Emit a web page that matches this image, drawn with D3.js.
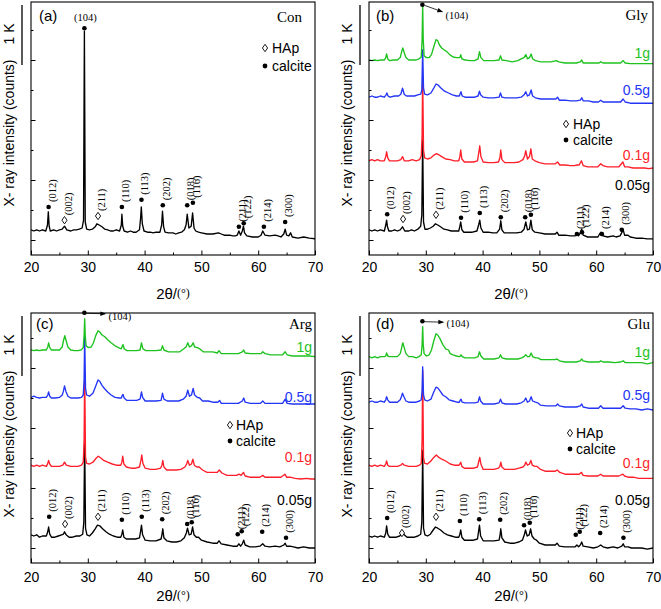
<!DOCTYPE html>
<html><head><meta charset="utf-8">
<script src="https://cdn.jsdelivr.net/npm/d3@7"></script>
<style>body{margin:0;background:#fff}</style>
</head><body>
<script>
// ---------- DATA ----------
const xTicks = [20, 30, 40, 50, 60, 70];
const xMinorTicks = [25, 35, 45, 55, 65];
const yMajorTicks = [0, 1000, 2000, 3000];
const yMinorTicks = [500, 1500, 2500, 3500];
const sampleNames = ["0.05g", "0.1g", "0.5g", "1g"];

// 2θ (deg), intensity (counts)
const conPattern = [[20,170],[20.5,150],[21,170],[21.5,150],[22,170],[22.6,150],[22.9,250],[23.05,470],[23.2,230],[23.4,150],[24,170],[24.5,150],[25,170],[25.5,180],[25.9,230],[26.3,170],[27,150],[27.5,170],[28,170],[28.5,180],[29,200],[29.25,330],[29.4,3480],[29.55,300],[29.8,180],[30.3,170],[30.8,180],[31.3,220],[31.6,270],[32,250],[32.5,220],[33,180],[33.5,170],[34,150],[34.5,150],[35,170],[35.6,150],[35.9,250],[36,430],[36.15,230],[36.4,150],[37,130],[37.5,150],[38,130],[38.5,130],[39.1,170],[39.3,370],[39.42,550],[39.6,270],[39.9,150],[40.5,130],[41,130],[41.5,120],[42,130],[42.7,130],[43,250],[43.15,480],[43.35,220],[43.6,130],[44.2,120],[45,120],[45.5,100],[46,120],[46.5,130],[47,170],[47.3,250],[47.5,430],[47.8,200],[48.2,230],[48.45,450],[48.7,200],[49,150],[49.5,130],[50,120],[51,100],[52,100],[53,120],[53.5,100],[54,80],[55,80],[55.5,70],[56,70],[56.3,80],[56.6,150],[56.9,80],[57.2,150],[57.4,230],[57.6,120],[58,70],[59,50],[60,50],[60.5,80],[60.8,150],[61.2,80],[62,70],[63,80],[63.5,70],[64,50],[64.5,100],[64.75,180],[65,80],[65.4,70],[65.7,120],[66,50],[67,30],[68,50],[69,30],[70,20]];

const glyS005 = [[20,170],[20.5,150],[21,170],[21.5,150],[22,170],[22.7,150],[22.95,250],[23.1,330],[23.25,220],[23.5,150],[24,150],[24.5,170],[25,150],[25.5,170],[25.9,220],[26.3,150],[27,150],[27.5,170],[28,150],[28.6,180],[29.1,230],[29.3,420],[29.45,1670],[29.6,300],[29.85,180],[30.3,180],[30.8,200],[31.3,230],[31.7,270],[32.1,250],[32.6,220],[33.2,180],[33.8,170],[34.5,150],[35.2,150],[35.8,150],[36,230],[36.15,300],[36.35,170],[36.7,130],[37.5,130],[38.2,130],[39,150],[39.3,250],[39.5,330],[39.7,200],[40.1,130],[41,130],[41.8,120],[42.5,120],[43,180],[43.2,320],[43.4,170],[43.8,120],[44.5,120],[45.2,120],[46,120],[46.8,130],[47.3,180],[47.6,300],[47.9,170],[48.25,180],[48.5,330],[48.75,170],[49.2,130],[50,120],[51,100],[52,100],[52.8,100],[53.1,130],[53.4,80],[54.5,80],[55.5,70],[56.3,70],[56.6,100],[56.9,70],[57.2,120],[57.45,180],[57.7,80],[58.5,50],[59.5,50],[60.3,50],[60.6,100],[60.85,130],[61.2,70],[62,50],[63,70],[63.5,50],[64.2,70],[64.55,130],[64.75,170],[65,80],[65.6,80],[66,50],[67,30],[68,30],[69,20],[70,20]];
const glyS01 = [[20,150],[20.5,170],[21,150],[21.5,170],[22,150],[22.7,150],[22.95,220],[23.1,300],[23.3,200],[23.6,150],[24.3,150],[25,150],[25.6,170],[25.9,220],[26.2,150],[27,150],[27.6,170],[28.3,150],[28.9,170],[29.2,230],[29.35,580],[29.45,1580],[29.6,330],[29.8,200],[30.3,180],[30.9,200],[31.5,250],[31.9,270],[32.3,250],[32.8,220],[33.5,180],[34.3,170],[35,150],[35.8,150],[36,220],[36.15,330],[36.35,180],[36.8,130],[37.6,130],[38.4,130],[39.1,150],[39.35,300],[39.5,400],[39.7,220],[40.1,130],[41,120],[42,120],[42.8,130],[43.05,200],[43.2,330],[43.4,170],[43.9,120],[44.8,120],[45.6,120],[46.4,130],[47.1,170],[47.4,230],[47.6,320],[47.9,180],[48.25,220],[48.5,350],[48.75,180],[49.2,150],[50,120],[51,100],[52,100],[52.8,100],[53.2,130],[53.6,80],[54.5,80],[55.5,70],[56.2,70],[56.6,80],[57,80],[57.4,150],[57.7,70],[58.5,50],[59.5,50],[60.3,50],[60.8,100],[61.2,70],[62,50],[63,50],[64,50],[64.7,130],[65,50],[65.6,50],[66.5,30],[67.5,30],[68.5,30],[69.3,20],[70,30]];
const glyS05 = [[20,130],[20.5,150],[21,130],[21.5,130],[22,150],[22.7,130],[23,170],[23.15,200],[23.35,150],[23.7,130],[24.5,150],[25.2,150],[25.6,180],[25.9,280],[26.2,180],[26.6,150],[27.3,150],[28,150],[28.6,170],[29.1,180],[29.3,250],[29.45,920],[29.6,280],[29.8,180],[30.3,170],[30.9,200],[31.4,280],[31.8,350],[32.2,330],[32.7,280],[33.3,230],[34,200],[34.7,170],[35.4,150],[35.9,150],[36.1,200],[36.2,220],[36.4,150],[36.9,130],[37.8,130],[38.6,130],[39.2,150],[39.45,230],[39.65,170],[40.1,130],[41,120],[42,120],[42.9,130],[43.15,200],[43.4,130],[44,120],[45,120],[46,120],[46.8,130],[47.3,170],[47.6,220],[47.9,150],[48.25,170],[48.55,250],[48.8,150],[49.3,120],[50.2,100],[51.2,100],[52,100],[52.9,100],[53.2,130],[53.5,80],[54.5,80],[55.5,70],[56.5,70],[57.2,80],[57.45,120],[57.7,70],[58.6,70],[59.5,50],[60.4,50],[60.8,80],[61.2,50],[62,50],[63,50],[64.3,50],[64.75,100],[65.1,50],[66,30],[67,30],[68,30],[69,30],[70,30]];
const glyS1 = [[20,80],[20.5,70],[21,80],[21.5,70],[22,80],[22.7,80],[22.95,120],[23.1,180],[23.3,100],[23.6,70],[24.3,80],[25,80],[25.5,120],[25.75,220],[25.95,280],[26.2,200],[26.5,120],[27,80],[27.7,80],[28.3,80],[28.8,100],[29.2,130],[29.35,420],[29.45,1000],[29.55,420],[29.7,150],[30.1,120],[30.6,120],[31,170],[31.4,300],[31.8,420],[32.1,400],[32.4,330],[32.8,280],[33.2,250],[33.7,220],[34.2,170],[34.8,130],[35.4,120],[36,120],[36.15,170],[36.35,100],[36.9,80],[37.8,70],[38.6,70],[39.2,100],[39.45,220],[39.7,120],[40.2,70],[41,70],[42,70],[42.9,80],[43.15,150],[43.4,80],[44.2,70],[45.2,50],[46.2,70],[46.8,100],[47.3,120],[47.6,170],[47.9,100],[48.25,120],[48.55,180],[48.8,100],[49.3,70],[50.2,50],[51,50],[52,50],[53,70],[53.4,50],[54.5,30],[55.5,30],[56.5,30],[57.2,50],[57.45,80],[57.7,30],[58.6,30],[59.5,30],[60.5,30],[60.8,50],[61.2,30],[62.2,30],[63.3,30],[64.3,30],[64.75,70],[65.1,30],[66,20],[67,20],[68,20],[69,20],[70,20]];
const glyOffsets = [0, 1170, 2250, 2920];

const argS005 = [[20,220],[20.5,200],[21,220],[21.5,180],[22,200],[22.7,200],[22.95,270],[23.1,350],[23.3,230],[23.6,180],[24.2,180],[24.8,200],[25.4,220],[25.7,230],[25.9,270],[26.2,220],[26.7,180],[27.3,180],[28,200],[28.6,200],[29.1,230],[29.3,430],[29.45,1800],[29.6,330],[29.85,220],[30.3,200],[30.8,250],[31.3,320],[31.7,380],[32.1,370],[32.6,320],[33.2,270],[33.8,230],[34.5,200],[35.2,180],[35.8,180],[36,230],[36.15,300],[36.35,180],[36.8,150],[37.6,150],[38.4,150],[39.1,170],[39.3,280],[39.45,380],[39.65,220],[40.1,130],[41,120],[42,120],[42.9,150],[43.05,220],[43.2,320],[43.4,170],[43.9,120],[44.8,100],[45.6,100],[46.4,120],[47,170],[47.35,250],[47.55,330],[47.85,220],[48.2,230],[48.45,350],[48.7,220],[49.1,180],[49.5,180],[50,130],[51,100],[52,80],[52.8,80],[53.1,120],[53.5,70],[54.5,50],[55.5,30],[56.3,30],[56.6,70],[56.9,30],[57.2,70],[57.45,130],[57.7,50],[58.5,20],[59.5,20],[60.3,30],[60.8,70],[61.2,30],[62,20],[63,30],[63.8,20],[64.5,50],[64.75,80],[65,30],[65.6,30],[66.2,20],[67,0],[68,20],[69,0],[70,0]];
const argS01 = [[20,250],[20.5,230],[21,250],[21.5,230],[22,250],[22.7,230],[22.95,280],[23.1,330],[23.3,270],[23.6,230],[24.3,230],[25,230],[25.6,250],[25.9,300],[26.2,250],[27,230],[27.6,230],[28.3,230],[28.9,250],[29.2,300],[29.35,670],[29.45,1830],[29.6,380],[29.8,280],[30.3,270],[30.9,300],[31.5,370],[31.85,400],[32.3,370],[32.8,330],[33.5,300],[34.3,270],[35,250],[35.8,250],[36,300],[36.15,400],[36.35,270],[36.8,220],[37.6,200],[38.4,200],[39.1,220],[39.35,330],[39.5,420],[39.7,280],[40.1,200],[41,180],[42,180],[42.8,200],[43.05,250],[43.2,330],[43.4,220],[43.9,170],[44.8,170],[45.6,170],[46.4,180],[47.1,220],[47.4,270],[47.6,330],[47.9,250],[48.25,270],[48.5,350],[48.75,250],[49.2,220],[49.6,220],[50.2,170],[51,130],[52,130],[52.8,130],[53.15,170],[53.6,120],[54.5,80],[55.5,80],[56.2,80],[56.6,100],[57,80],[57.4,130],[57.7,70],[58.5,50],[59.5,50],[60.3,50],[60.8,80],[61.2,50],[62,50],[63,50],[64,50],[64.7,100],[65,50],[65.6,50],[66.5,30],[67.5,20],[68.5,30],[69.3,20],[70,20]];
const argS05 = [[20,130],[20.5,150],[21,130],[21.5,120],[22,130],[22.7,130],[22.95,170],[23.1,220],[23.3,150],[23.6,120],[24.3,120],[25,130],[25.5,170],[25.7,230],[25.9,320],[26.15,230],[26.5,150],[27,120],[27.7,120],[28.3,120],[28.9,130],[29.2,170],[29.35,420],[29.45,1170],[29.6,280],[29.8,170],[30.3,150],[30.9,200],[31.4,320],[31.8,420],[32.1,400],[32.5,330],[33,270],[33.5,220],[34.1,170],[34.8,130],[35.5,120],[35.9,120],[36.1,170],[36.2,180],[36.4,120],[36.9,80],[37.8,80],[38.6,80],[39.2,100],[39.45,220],[39.65,130],[40.1,70],[41,70],[42,70],[42.9,80],[43.15,200],[43.4,100],[44,70],[45,70],[46,70],[46.8,100],[47.3,150],[47.6,250],[47.9,150],[48.25,170],[48.55,280],[48.8,170],[49.3,130],[49.7,120],[50.2,70],[51.2,70],[52,50],[52.9,50],[53.2,80],[53.5,30],[54.5,30],[55.5,30],[56.5,30],[57.2,70],[57.45,120],[57.7,50],[58.6,30],[59.5,30],[60.4,30],[60.8,70],[61.2,30],[62,30],[63,30],[64.3,30],[64.75,100],[65.1,30],[66,20],[67,20],[68,20],[69,20],[70,20]];
const argS1 = [[20,130],[20.5,120],[21,130],[21.5,120],[22,130],[22.7,130],[22.95,180],[23.1,250],[23.3,170],[23.6,130],[24.3,130],[25,130],[25.5,180],[25.7,280],[25.95,370],[26.2,280],[26.5,180],[27,130],[27.7,120],[28.3,120],[28.8,130],[29.2,170],[29.35,380],[29.45,650],[29.55,380],[29.7,200],[30.1,170],[30.6,180],[31,250],[31.4,370],[31.8,450],[32.1,430],[32.5,380],[33,350],[33.5,300],[34.1,250],[34.8,200],[35.4,170],[35.9,150],[36.1,200],[36.2,220],[36.4,150],[36.9,120],[37.8,120],[38.6,120],[39.2,130],[39.45,250],[39.7,150],[40.2,120],[41,120],[42,120],[42.9,130],[43.15,200],[43.4,130],[44.2,100],[45.2,100],[46.2,100],[46.9,150],[47.3,180],[47.6,250],[47.9,180],[48.25,200],[48.55,250],[48.8,180],[49.3,170],[49.7,150],[50.3,100],[51,100],[52,100],[52.8,80],[53.1,120],[53.5,70],[54.5,70],[55.5,70],[56.5,70],[57.2,100],[57.45,130],[57.7,80],[58.6,70],[59.5,70],[60.5,70],[60.8,100],[61.2,70],[62.2,50],[63.3,50],[64.3,50],[64.75,100],[65.1,50],[66,30],[67,30],[68,30],[69,30],[70,20]];
const argOffsets = [0, 1130, 2380, 3170];

const gluS005 = [[20,200],[20.5,180],[21,200],[21.5,180],[22,200],[22.7,180],[22.95,250],[23.1,370],[23.3,230],[23.6,180],[24.2,180],[24.8,180],[25.4,200],[25.7,230],[25.9,280],[26.2,220],[26.7,180],[27.3,180],[28,180],[28.6,200],[29.1,230],[29.3,430],[29.45,1630],[29.6,330],[29.85,220],[30.3,200],[30.8,230],[31.3,300],[31.7,350],[32.1,330],[32.6,300],[33.2,250],[33.8,220],[34.5,200],[35.2,180],[35.8,180],[36,230],[36.15,300],[36.35,180],[36.8,130],[37.6,130],[38.4,130],[39.1,150],[39.3,280],[39.45,380],[39.65,200],[40.1,120],[41,120],[42,120],[42.9,130],[43.05,200],[43.2,320],[43.4,170],[43.9,100],[44.8,80],[45.6,80],[46.4,100],[47,130],[47.35,220],[47.55,300],[47.85,200],[48.2,220],[48.45,320],[48.7,200],[49.1,150],[49.5,130],[50,80],[51,50],[52,50],[52.8,50],[53.1,80],[53.5,30],[54.5,20],[55.5,20],[56.3,20],[56.6,50],[56.9,20],[57.2,50],[57.45,100],[57.7,30],[58.5,20],[59.5,0],[60.3,20],[60.8,50],[61.2,20],[62,0],[63,20],[63.8,0],[64.5,30],[64.75,70],[65,20],[65.6,20],[66.2,0],[67,0],[68,0],[69,-20],[70,0]];
const gluS01 = [[20,250],[20.5,230],[21,250],[21.5,230],[22,250],[22.7,230],[22.95,270],[23.1,320],[23.3,250],[23.6,230],[24.3,230],[25,230],[25.6,250],[25.9,280],[26.2,250],[27,230],[27.6,230],[28.3,230],[28.9,250],[29.2,280],[29.35,670],[29.45,1830],[29.6,370],[29.8,280],[30.3,270],[30.9,320],[31.4,380],[31.85,420],[32.3,380],[32.8,350],[33.5,320],[34.3,270],[35,250],[35.8,250],[36,270],[36.15,300],[36.35,230],[36.8,200],[37.6,200],[38.4,200],[39.1,220],[39.35,320],[39.5,380],[39.7,270],[40.1,180],[41,180],[42,180],[42.8,200],[43.05,230],[43.2,300],[43.4,220],[43.9,180],[44.8,180],[45.6,180],[46.4,200],[47.1,220],[47.4,250],[47.6,300],[47.9,250],[48.25,270],[48.5,330],[48.75,250],[49.2,230],[49.6,230],[50.2,180],[51,150],[52,150],[52.8,150],[53.15,170],[53.6,130],[54.5,100],[55.5,100],[56.2,100],[56.6,100],[57,100],[57.4,130],[57.7,80],[58.5,70],[59.5,70],[60.3,70],[60.8,100],[61.2,70],[62,70],[63,70],[64,70],[64.7,100],[65,70],[65.6,50],[66.5,50],[67.5,30],[68.5,30],[69.3,30],[70,30]];
const gluS05 = [[20,130],[20.5,150],[21,130],[21.5,130],[22,150],[22.7,130],[22.95,170],[23.1,220],[23.3,170],[23.6,130],[24.3,130],[25,130],[25.5,170],[25.7,220],[25.9,280],[26.15,220],[26.5,150],[27,130],[27.7,130],[28.3,130],[28.9,150],[29.2,170],[29.35,330],[29.45,720],[29.6,250],[29.8,170],[30.3,150],[30.9,180],[31.4,300],[31.8,380],[32.1,370],[32.5,320],[33,250],[33.5,220],[34.1,170],[34.8,150],[35.5,130],[35.9,130],[36.1,170],[36.2,180],[36.4,130],[36.9,120],[37.8,120],[38.6,120],[39.2,130],[39.45,220],[39.65,150],[40.1,100],[41,100],[42,100],[42.9,120],[43.15,180],[43.4,120],[44,100],[45,100],[46,100],[46.8,120],[47.3,150],[47.6,200],[47.9,130],[48.25,150],[48.55,220],[48.8,150],[49.3,130],[49.7,120],[50.2,80],[51.2,70],[52,70],[52.9,70],[53.2,100],[53.5,70],[54.5,50],[55.5,50],[56.5,50],[57.2,70],[57.45,100],[57.7,50],[58.6,30],[59.5,30],[60.4,30],[60.8,70],[61.2,30],[62,30],[63,30],[64.3,30],[64.75,70],[65.1,30],[66,20],[67,20],[68,0],[69,20],[70,0]];
const gluS1 = [[20,120],[20.5,100],[21,120],[21.5,100],[22,120],[22.7,120],[22.95,130],[23.1,180],[23.3,130],[23.6,120],[24.3,120],[25,120],[25.5,170],[25.7,250],[25.95,350],[26.2,270],[26.5,170],[27,120],[27.7,120],[28.3,100],[28.8,120],[29.2,150],[29.35,320],[29.45,620],[29.55,320],[29.7,170],[30.1,130],[30.6,150],[31,230],[31.4,380],[31.8,500],[32.1,480],[32.5,420],[33,320],[33.5,250],[34,230],[34.3,170],[34.8,150],[35.4,130],[35.9,120],[36.1,130],[36.2,150],[36.4,120],[36.9,100],[37.8,100],[38.6,100],[39.2,120],[39.45,200],[39.7,130],[40.2,80],[41,80],[42,80],[42.9,100],[43.15,150],[43.4,100],[44.2,80],[45.2,80],[46.2,80],[46.9,100],[47.3,120],[47.6,150],[47.9,120],[48.25,120],[48.55,180],[48.8,120],[49.3,100],[49.7,100],[50.3,70],[51,70],[52,70],[52.8,70],[53.1,80],[53.5,50],[54.5,30],[55.5,30],[56.5,30],[57.2,50],[57.45,80],[57.7,50],[58.6,30],[59.5,30],[60.5,30],[60.8,50],[61.2,30],[62.2,30],[63.3,20],[64.3,30],[64.75,50],[65.1,20],[66,20],[67,20],[68,20],[69,0],[70,20]];
const gluOffsets = [0, 1130, 2300, 3070];

// peak annotations: [hkl, 2θ, marker intensity (counts), phase c=calcite h=HAp]
const conPeaks = [["(012)",23.1,550,"c"],["(002)",25.9,330,"h"],["(104)",29.4,3530,"c"],["(211)",31.8,400,"h"],["(110)",36.0,550,"c"],["(113)",39.45,670,"c"],["(202)",43.2,580,"c"],["(018)",47.5,580,"c"],["(116)",48.5,620,"c"],["(211)",56.6,220,"c"],["(122)",57.45,280,"c"],["(214)",61.0,220,"c"],["(300)",64.75,300,"c"]];
const glyPeaks = [["(012)",23.2,430,"c"],["(002)",26.0,350,"h"],["(104)",29.4,3920,"c"],["(211)",31.8,420,"h"],["(110)",36.2,370,"c"],["(113)",39.5,450,"c"],["(202)",43.2,380,"c"],["(018)",47.5,380,"c"],["(116)",48.5,420,"c"],["(211)",56.6,100,"c"],["(122)",57.5,130,"c"],["(214)",61.0,100,"c"],["(300)",64.5,170,"c"]];
const argPeaks = [["(012)",23.2,520,"c"],["(002)",26.0,400,"h"],["(104)",29.4,3920,"c"],["(211)",31.8,520,"h"],["(110)",36.0,470,"c"],["(113)",39.5,520,"c"],["(202)",43.1,480,"c"],["(018)",47.5,400,"c"],["(116)",48.3,430,"c"],["(211)",56.4,230,"c"],["(122)",57.1,280,"c"],["(214)",60.7,270,"c"],["(300)",64.9,170,"c"]];
const gluPeaks = [["(012)",23.2,500,"c"],["(002)",25.8,250,"h"],["(104)",29.4,3780,"c"],["(211)",31.8,520,"h"],["(110)",36.0,450,"c"],["(113)",39.4,480,"c"],["(202)",43.1,470,"c"],["(018)",47.3,380,"c"],["(116)",48.3,420,"c"],["(211)",56.4,220,"c"],["(122)",57.1,270,"c"],["(214)",60.7,250,"c"],["(300)",64.8,170,"c"]];

// ---------- STYLE / LAYOUT ----------
const SANS = "'Liberation Sans', Arial, Helvetica, sans-serif";
const SERIF = "'Liberation Serif', 'Times New Roman', serif";
const seriesColors = ["#000000", "#ff1f2a", "#2335f5", "#1ec21e"];

const panels = [
  {key:"a", letter:"(a)", name:"Con", left:31, top:2, right:315, bottom:255, tickPad:7, titleDy:38,
   series:[conPattern], offsets:[0], peaks:conPeaks,
   letterPos:[39,15], namePos:[302,17], legend:{mx:265, tx:272, y1:48, y2:66},
   labels:null, main:{type:"above"}},
  {key:"b", letter:"(b)", name:"Gly", left:369, top:2, right:653, bottom:255, tickPad:7, titleDy:38,
   series:[glyS005, glyS01, glyS05, glyS1], offsets:glyOffsets, peaks:glyPeaks,
   letterPos:[376,15], namePos:[648,15], legend:{mx:566, tx:573, y1:124, y2:140},
   labels:{x:650, ys:[185,155,90,53]}, main:{type:"arrow", ax:20, ay:7, tx:23, ty:11}},
  {key:"c", letter:"(c)", name:"Arg", left:31, top:313, right:315, bottom:563, tickPad:9, titleDy:32,
   series:[argS005, argS01, argS05, argS1], offsets:argOffsets, peaks:argPeaks,
   letterPos:[36,323], namePos:[312,324], legend:{mx:230, tx:236, y1:425, y2:441},
   labels:{x:312, ys:[500,457,397,347]}, main:{type:"arrow", ax:21, ay:1, tx:24, ty:4}},
  {key:"d", letter:"(d)", name:"Glu", left:369, top:313, right:653, bottom:563, tickPad:9, titleDy:32,
   series:[gluS005, gluS01, gluS05, gluS1], offsets:gluOffsets, peaks:gluPeaks,
   letterPos:[376,323], namePos:[650,324], legend:{mx:570, tx:576, y1:433, y2:449},
   labels:{x:650, ys:[500,463,395,352]}, main:{type:"arrow", ax:21, ay:1, tx:24, ty:2}}
];

// ---------- DRAW ----------
const svg = d3.select("body").append("svg").attr("width",661).attr("height",609);
svg.append("rect").attr("width",661).attr("height",609).attr("fill","#fff");
const defs = svg.append("defs");
defs.append("marker").attr("id","arrowhead").attr("viewBox","0 0 10 10")
  .attr("refX",9).attr("refY",5).attr("markerWidth",7).attr("markerHeight",7)
  .attr("orient","auto").append("path").attr("d","M0,1L10,5L0,9Z").attr("fill","#000");

const diamondPath = "M0,-3.7L2.6,0L0,3.7L-2.6,0Z";

function drawPanel(p) {
  const x = d3.scaleLinear().domain([20,70]).range([p.left,p.right]);
  const y = d3.scaleLinear().domain([0,1000]).range([p.bottom-15, p.bottom-75]);
  const g = svg.append("g");

  defs.append("clipPath").attr("id","clip-"+p.key).append("rect")
    .attr("x",p.left).attr("y",p.top).attr("width",p.right-p.left).attr("height",p.bottom-p.top);

  // patterns
  p.series.forEach((s,i) => {
    const off = p.offsets[i];
    const line = d3.line().x(d => x(d[0])).y(d => y(d[1] + off));
    g.append("path").datum(s).attr("d", line)
      .attr("fill","none").attr("stroke", seriesColors[i])
      .attr("stroke-width",1.35).attr("stroke-linejoin","round")
      .attr("clip-path","url(#clip-"+p.key+")");
  });

  // axes (inward ticks)
  const xAx = g.append("g").attr("transform",`translate(0,${p.bottom})`)
    .call(d3.axisBottom(x).tickValues(xTicks).tickSize(-4.5).tickPadding(p.tickPad).tickFormat(d3.format("d")));
  const xMin = g.append("g").attr("transform",`translate(0,${p.bottom})`)
    .call(d3.axisBottom(x).tickValues(xMinorTicks).tickSize(-2.5).tickFormat(""));
  const yAx = g.append("g").attr("transform",`translate(${p.left},0)`)
    .call(d3.axisLeft(y).tickValues(yMajorTicks).tickSize(-4.5).tickFormat(""));
  const yMin = g.append("g").attr("transform",`translate(${p.left},0)`)
    .call(d3.axisLeft(y).tickValues(yMinorTicks).tickSize(-2.5).tickFormat(""));
  [xAx,xMin,yAx,yMin].forEach(a => {
    a.select(".domain").remove();
    a.selectAll("line").attr("stroke","#000").attr("stroke-width",1);
  });
  xAx.selectAll("text").attr("font-family",SANS).attr("font-size",14).attr("fill","#000");

  // frame
  g.append("rect").attr("x",p.left).attr("y",p.top).attr("width",p.right-p.left).attr("height",p.bottom-p.top)
    .attr("fill","none").attr("stroke","#000").attr("stroke-width",1.1);

  // x title
  const xt = g.append("text").attr("x",(p.left+p.right)/2).attr("y",p.bottom+p.titleDy)
    .attr("text-anchor","middle").attr("dominant-baseline","central");
  xt.append("tspan").attr("font-family",SANS).attr("font-size",15).text("2θ/");
  xt.append("tspan").attr("font-family",SERIF).attr("font-size",12).text("(°)");

  // y title, scale bar
  const cx = p.left - 22;
  g.append("text").attr("transform",`translate(${cx},${p.top+131}) rotate(-90)`)
    .attr("text-anchor","middle").attr("dominant-baseline","central")
    .attr("font-family",SANS).attr("font-size",14).text("X- ray intensity (counts)");
  g.append("line").attr("x1",p.left-9).attr("x2",p.left-9)
    .attr("y1",p.top+3).attr("y2",p.top+3+(y(0)-y(1000)))
    .attr("stroke","#000").attr("stroke-width",1.3);
  g.append("text").attr("transform",`translate(${cx},${p.top+32}) rotate(-90)`)
    .attr("text-anchor","middle").attr("dominant-baseline","central")
    .attr("font-family",SANS).attr("font-size",14).text("1 K");

  // panel letter & name
  g.append("text").attr("x",p.letterPos[0]).attr("y",p.letterPos[1]).attr("dominant-baseline","central")
    .attr("font-family",SANS).attr("font-size",15).text(p.letter);
  g.append("text").attr("x",p.namePos[0]).attr("y",p.namePos[1]).attr("dominant-baseline","central")
    .attr("text-anchor","end").attr("font-family",SERIF).attr("font-size",15).text(p.name);

  // legend
  const L = p.legend;
  g.append("path").attr("d",diamondPath).attr("transform",`translate(${L.mx},${L.y1})`)
    .attr("fill","#fff").attr("stroke","#000").attr("stroke-width",0.9);
  g.append("text").attr("x",L.tx).attr("y",L.y1).attr("dominant-baseline","central")
    .attr("font-family",SANS).attr("font-size",14).text("HAp");
  g.append("circle").attr("cx",L.mx).attr("cy",L.y2).attr("r",2.4).attr("fill","#000");
  g.append("text").attr("x",L.tx).attr("y",L.y2).attr("dominant-baseline","central")
    .attr("font-family",SANS).attr("font-size",14).text("calcite");

  // series labels
  if (p.labels) {
    sampleNames.forEach((n,i) => {
      g.append("text").attr("x",p.labels.x).attr("y",p.labels.ys[i]).attr("dominant-baseline","central")
        .attr("text-anchor","end").attr("font-family",SANS).attr("font-size",14)
        .attr("fill",seriesColors[i]).text(n);
    });
  }

  // peak markers + hkl labels
  p.peaks.forEach(([lab,t,c,ph]) => {
    const px = x(t), py = y(c);
    if (ph === "h") {
      g.append("path").attr("d",diamondPath).attr("transform",`translate(${px},${py})`)
        .attr("fill","#fff").attr("stroke","#000").attr("stroke-width",0.9);
    } else {
      g.append("circle").attr("cx",px).attr("cy",py).attr("r",2.3).attr("fill","#000");
    }
    if (lab === "(104)") {
      if (p.main.type === "above") {
        g.append("text").attr("x",px+1).attr("y",py-11).attr("text-anchor","middle")
          .attr("dominant-baseline","central").attr("font-family",SERIF).attr("font-size",10.5).text(lab);
      } else {
        g.append("line").attr("x1",px+2).attr("y1",py+0.5).attr("x2",px+p.main.ax).attr("y2",py+p.main.ay)
          .attr("stroke","#000").attr("stroke-width",0.8).attr("marker-end","url(#arrowhead)");
        g.append("text").attr("x",px+p.main.tx).attr("y",py+p.main.ty)
          .attr("dominant-baseline","central").attr("font-family",SERIF).attr("font-size",10.5).text(lab);
      }
    } else {
      g.append("text").attr("transform",`translate(${px+3.5},${py-5}) rotate(-90)`)
        .attr("text-anchor","start").attr("dominant-baseline","central")
        .attr("font-family",SERIF).attr("font-size",10.5).text(lab);
    }
  });
}

panels.forEach(drawPanel);
</script>
</body></html>
